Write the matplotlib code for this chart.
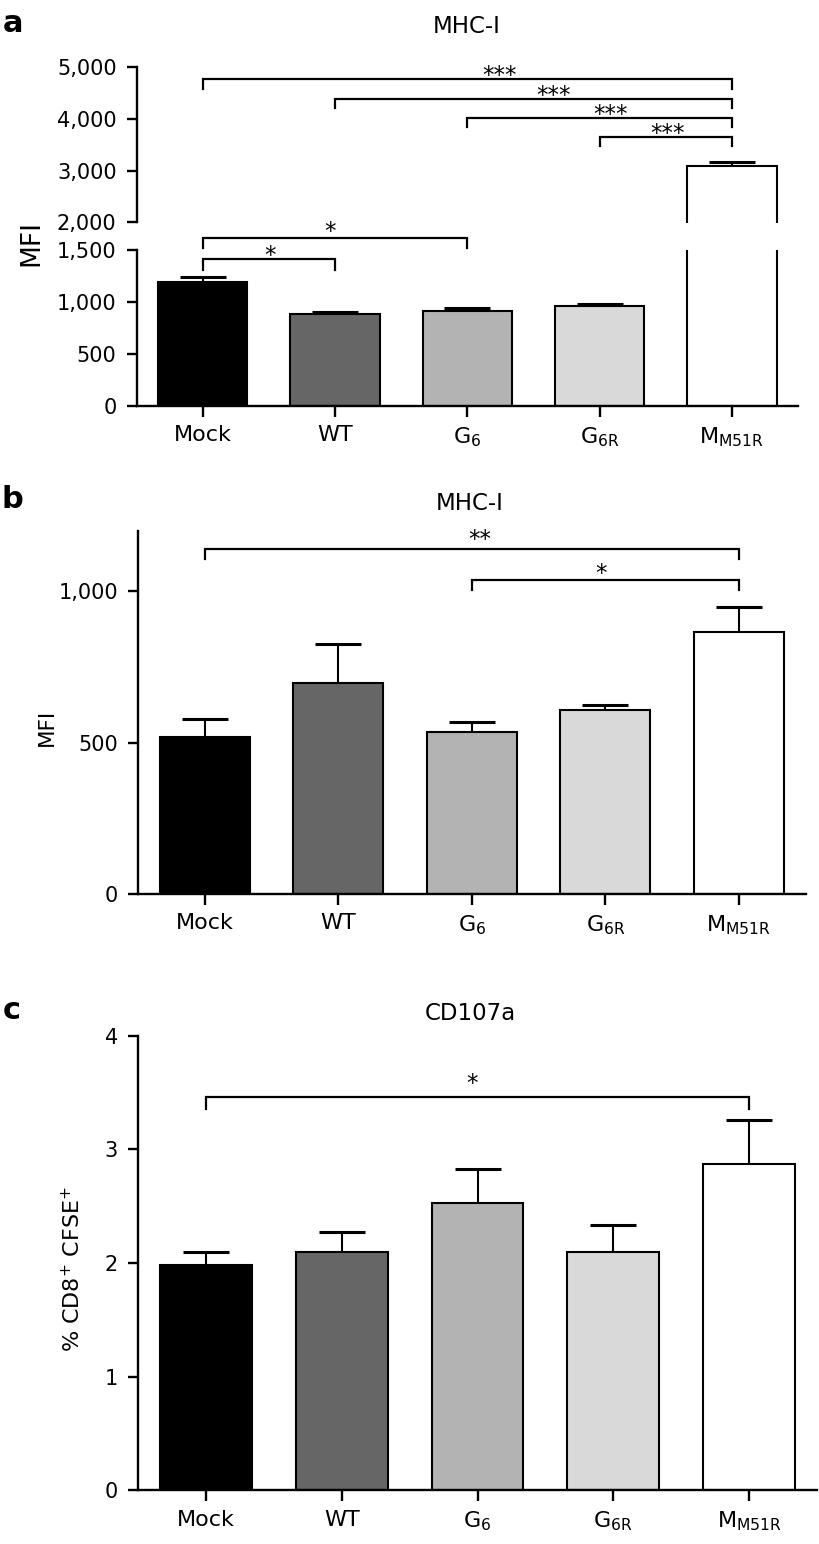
import matplotlib
matplotlib.use('Agg')
import matplotlib.pyplot as plt
from matplotlib.ticker import FuncFormatter
import numpy as np

plt.rcParams['font.family'] = ['DejaVu Sans']
plt.rcParams['mathtext.fontset'] = 'dejavusans'

# ---------------- data ----------------
categories = ['Mock', 'WT', 'G$_{\\mathrm{6}}$', 'G$_{\\mathrm{6R}}$', 'M$_{\\mathrm{M51R}}$']
bar_colors = ['#000000', '#666666', '#b3b3b3', '#d9d9d9', '#ffffff']

a_values = [1185, 880, 910, 956, 3098]
a_errors = [54, 22, 26, 19, 72]
a_lower_ticks = [0, 500, 1000, 1500]
a_upper_ticks = [2000, 3000, 4000, 5000]
# (from, to, height, label, star x)
a_upper_brackets = [(0, 4, 4769, '***', 2.24), (1, 4, 4395, '***', 2.65),
                    (2, 4, 4017, '***', 3.08), (3, 4, 3651, '***', 3.51)]
a_lower_brackets = [(0, 2, 1611, '*', 0.96), (0, 1, 1405, '*', 0.51)]

b_values = [520, 697, 537, 609, 865]
b_errors = [58, 130, 32, 17, 84]
b_ticks = [0, 500, 1000]
b_brackets = [(0, 4, 1141, '**', 2.06), (2, 4, 1039, '*', 2.97)]

c_values = [1.98, 2.10, 2.525, 2.095, 2.875]
c_errors = [0.12, 0.17, 0.30, 0.24, 0.385]
c_ticks = [0, 1, 2, 3, 4]
c_brackets = [(0, 4, 3.46, '*', 1.96)]

# ---------------- layout ----------------
W, H = 819, 1544
fig = plt.figure(figsize=(W / 100, H / 100), dpi=100)


def rect(x0, x1, ytop, ybot):
    return [x0 / W, 1 - ybot / H, (x1 - x0) / W, (ybot - ytop) / H]


ax_a_lo = fig.add_axes(rect(136.7, 798, 249.5, 406))
ax_a_up = fig.add_axes(rect(136.7, 798, 67.3, 222.5))
ax_b = fig.add_axes(rect(138.3, 805.5, 531, 894))
ax_c = fig.add_axes(rect(138, 817, 1035.8, 1490.3))

LW = 1.7
comma = FuncFormatter(lambda v, p: '{:,.0f}'.format(v))


def style(ax):
    for s in ['top', 'right']:
        ax.spines[s].set_visible(False)
    for s in ['left', 'bottom']:
        ax.spines[s].set_linewidth(LW)
    ax.tick_params(axis='y', length=7.5, width=LW, pad=7, labelsize=15)
    ax.tick_params(axis='x', length=8, width=LW, pad=6, labelsize=16)
    ax.set_xlim(-0.5, 4.5)


def draw_bars(ax, values, errors):
    x = np.arange(len(values))
    ax.bar(x, values, width=0.675, color=bar_colors, edgecolor='k',
           linewidth=1.5, zorder=2)
    eb = ax.errorbar(x, values, yerr=[np.zeros(len(errors)), errors], fmt='none',
                     ecolor='k', elinewidth=1.5, capsize=16.5, capthick=2.2, zorder=3)
    # keep only the upper caps (one-sided error bars)
    caps = eb[1]
    if len(caps) == 2:
        caps[0].set_visible(False)


def draw_brackets(ax, brackets, drop, offsets_px, clip=True):
    for (i, j, y, lab, sx), off in zip(brackets, offsets_px):
        ax.plot([i, i, j, j], [y - drop, y, y, y - drop], color='k', lw=1.6,
                clip_on=clip, solid_joinstyle='miter', zorder=4)
        ax.annotate(lab, xy=(sx, y), xytext=(0, off * 0.72), textcoords='offset points',
                    ha='center', va='baseline', fontsize=16.5, annotation_clip=False)


# ---------------- panel a ----------------
for ax in (ax_a_lo, ax_a_up):
    style(ax)
    draw_bars(ax, a_values, a_errors)
ax_a_lo.set_ylim(0, 1500)
ax_a_lo.set_yticks(a_lower_ticks)
ax_a_lo.yaxis.set_major_formatter(comma)
ax_a_lo.set_xticks(range(5))
ax_a_lo.set_xticklabels(categories)

ax_a_up.set_ylim(2000, 5000)
ax_a_up.set_yticks(a_upper_ticks)
ax_a_up.yaxis.set_major_formatter(comma)
ax_a_up.spines['bottom'].set_visible(False)
ax_a_up.tick_params(axis='x', bottom=False, labelbottom=False)
ax_a_up.patch.set_visible(False)

draw_brackets(ax_a_up, a_upper_brackets, 180, [-3, -3, -3, -3])
draw_brackets(ax_a_lo, a_lower_brackets, 98, [0, -3], clip=False)

# ---------------- panel b ----------------
style(ax_b)
draw_bars(ax_b, b_values, b_errors)
ax_b.set_ylim(0, 1200)
ax_b.set_yticks(b_ticks)
ax_b.yaxis.set_major_formatter(comma)
ax_b.set_xticks(range(5))
ax_b.set_xticklabels(categories)
draw_brackets(ax_b, b_brackets, 34, [3, 0])

# ---------------- panel c ----------------
style(ax_c)
draw_bars(ax_c, c_values, c_errors)
ax_c.set_ylim(0, 4)
ax_c.set_yticks(c_ticks)
ax_c.set_xticks(range(5))
ax_c.set_xticklabels(categories)
draw_brackets(ax_c, c_brackets, 0.1, [7])

# ---------------- texts ----------------
def ftext(x, y, s, **kw):
    fig.text(x / W, 1 - y / H, s, **kw)


ftext(3, 32, 'a', fontsize=22, fontweight='bold', ha='left', va='baseline')
ftext(2, 508, 'b', fontsize=22, fontweight='bold', ha='left', va='baseline')
ftext(3, 1019, 'c', fontsize=22, fontweight='bold', ha='left', va='baseline')

ftext(467, 33, 'MHC-I', fontsize=16.5, ha='center', va='baseline')
ftext(470, 510, 'MHC-I', fontsize=16.5, ha='center', va='baseline')
ftext(470, 1020, 'CD107a', fontsize=16.5, ha='center', va='baseline')

ftext(31, 243, 'MFI', fontsize=19, rotation=90, ha='center', va='center')
ftext(47, 727, 'MFI', fontsize=15.5, rotation=90, ha='center', va='center')
ftext(72, 1269, '% CD8$^{+}$ CFSE$^{+}$', fontsize=16, rotation=90, ha='center', va='center')

fig.savefig('out.png', dpi=100)
